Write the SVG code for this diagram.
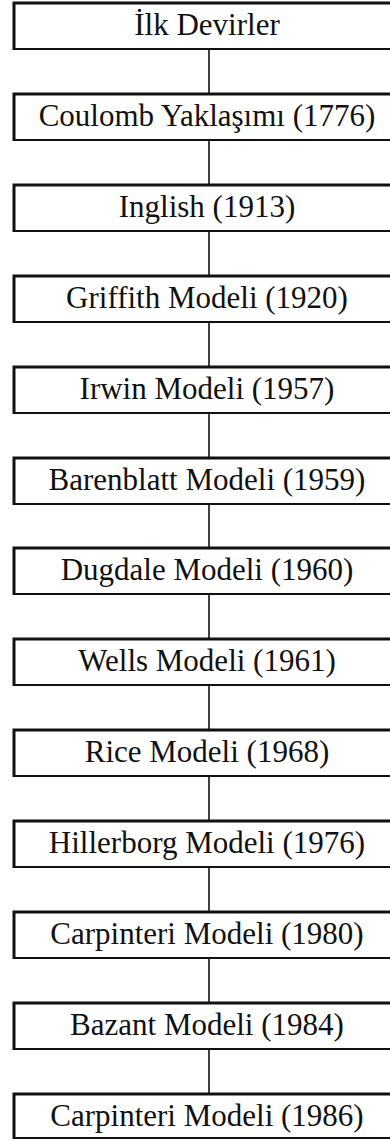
<svg xmlns="http://www.w3.org/2000/svg" width="390" height="1142" viewBox="0 0 390 1142">
<style>
.box{fill:#fff;stroke:#111;stroke-width:2}
.edge{fill:none;stroke:#111;stroke-width:3}
.t{font-family:"Liberation Serif","Times New Roman",serif;font-size:31px;fill:#111;text-anchor:middle}
.c{stroke:#111;stroke-width:1.6}
</style>
<rect width="390" height="1142" fill="#fff"/>
<g id="connectors">
<line class="c" x1="209" y1="49" x2="209" y2="94"/>
<line class="c" x1="209" y1="140" x2="209" y2="185"/>
<line class="c" x1="209" y1="231" x2="209" y2="276"/>
<line class="c" x1="209" y1="322" x2="209" y2="367"/>
<line class="c" x1="209" y1="413" x2="209" y2="458"/>
<line class="c" x1="209" y1="504" x2="209" y2="548"/>
<line class="c" x1="209" y1="594" x2="209" y2="639"/>
<line class="c" x1="209" y1="685" x2="209" y2="730"/>
<line class="c" x1="209" y1="776" x2="209" y2="821"/>
<line class="c" x1="209" y1="867" x2="209" y2="912"/>
<line class="c" x1="209" y1="958" x2="209" y2="1003"/>
<line class="c" x1="209" y1="1049" x2="209" y2="1094"/>
</g>
<g id="n0"><rect class="box" x="14" y="3" width="400" height="46"/><path class="edge" d="M14,50V3H414"/><text class="t" x="207" y="35">İlk Devirler</text></g>
<g id="n1"><rect class="box" x="14" y="94" width="400" height="46"/><path class="edge" d="M14,141V94H414"/><text class="t" x="207" y="126">Coulomb Yaklaşımı (1776)</text></g>
<g id="n2"><rect class="box" x="14" y="185" width="400" height="46"/><path class="edge" d="M14,232V185H414"/><text class="t" x="207" y="217">Inglish (1913)</text></g>
<g id="n3"><rect class="box" x="14" y="276" width="400" height="46"/><path class="edge" d="M14,323V276H414"/><text class="t" x="207" y="308">Griffith Modeli (1920)</text></g>
<g id="n4"><rect class="box" x="14" y="367" width="400" height="46"/><path class="edge" d="M14,414V367H414"/><text class="t" x="207" y="399">Irwin Modeli (1957)</text></g>
<g id="n5"><rect class="box" x="14" y="458" width="400" height="46"/><path class="edge" d="M14,505V458H414"/><text class="t" x="207" y="490">Barenblatt Modeli (1959)</text></g>
<g id="n6"><rect class="box" x="14" y="548" width="400" height="46"/><path class="edge" d="M14,595V548H414"/><text class="t" x="207" y="580">Dugdale Modeli (1960)</text></g>
<g id="n7"><rect class="box" x="14" y="639" width="400" height="46"/><path class="edge" d="M14,686V639H414"/><text class="t" x="207" y="671">Wells Modeli (1961)</text></g>
<g id="n8"><rect class="box" x="14" y="730" width="400" height="46"/><path class="edge" d="M14,777V730H414"/><text class="t" x="207" y="762">Rice Modeli (1968)</text></g>
<g id="n9"><rect class="box" x="14" y="821" width="400" height="46"/><path class="edge" d="M14,868V821H414"/><text class="t" x="207" y="853">Hillerborg Modeli (1976)</text></g>
<g id="n10"><rect class="box" x="14" y="912" width="400" height="46"/><path class="edge" d="M14,959V912H414"/><text class="t" x="207" y="944">Carpinteri Modeli (1980)</text></g>
<g id="n11"><rect class="box" x="14" y="1003" width="400" height="46"/><path class="edge" d="M14,1050V1003H414"/><text class="t" x="207" y="1035">Bazant Modeli (1984)</text></g>
<g id="n12"><rect class="box" x="14" y="1094" width="400" height="44"/><path class="edge" d="M14,1139V1094H414"/><text class="t" x="207" y="1126">Carpinteri Modeli (1986)</text></g>
</svg>
